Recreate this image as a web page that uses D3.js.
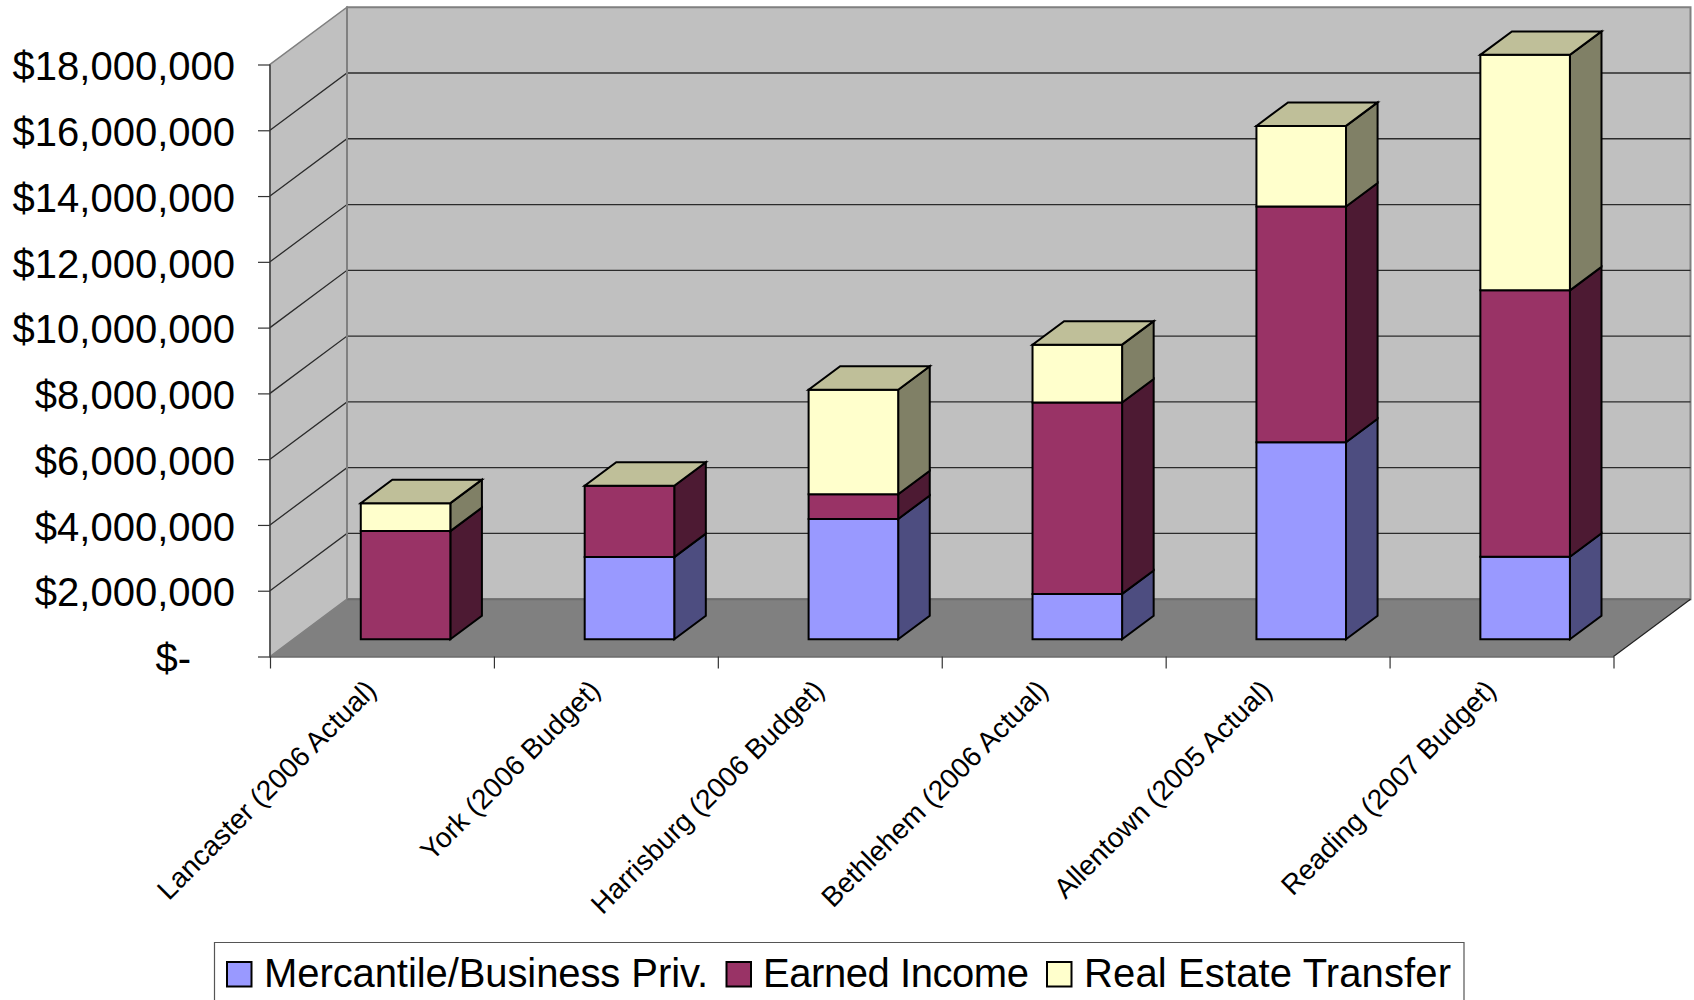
<!DOCTYPE html>
<html>
<head>
<meta charset="utf-8">
<script src="https://cdn.jsdelivr.net/npm/d3@7/dist/d3.min.js"></script>
<style>
  html, body { margin: 0; padding: 0; background: #fff; overflow: hidden; }
  svg { display: block; }
  text { font-family: "Liberation Sans", Arial, sans-serif; fill: #000; }
</style>
</head>
<body>
<svg id="chart" width="1694" height="1000"></svg>
<script>
// Local tax revenue by city, stacked by source
const categories = [
  "Lancaster (2006 Actual)", "York (2006 Budget)", "Harrisburg (2006 Budget)",
  "Bethlehem (2006 Actual)", "Allentown (2005 Actual)", "Reading (2007 Budget)"
];
const seriesNames = ["Mercantile/Business Priv.", "Earned Income", "Real Estate Transfer"];
const mercantile = [0, 2500000, 3660000, 1380000, 5990000, 2510000];
const earnedIncome = [3290000, 2170000, 750000, 5820000, 7170000, 8100000];
const realEstate = [850000, 0, 3180000, 1760000, 2450000, 7160000];
const yTicks = [0, 2e6, 4e6, 6e6, 8e6, 10e6, 12e6, 14e6, 16e6, 18e6];

const frontColors = ["#9999FF", "#993366", "#FFFFCC"];
const sideColors = ["#4D4D80", "#4D1A33", "#808066"];
const topColor = "#BFBF99";

const svg = d3.select("#chart");

const plot = { left: 270, right: 1613.5, bottom: 656.5, top: 64.5 };
const depthX = 77, depthY = -57.3;
const barDepthNear = 0.3, barDepthFar = 0.71;

const y = d3.scaleLinear().domain([0, 18e6]).range([plot.bottom, plot.top]);
const x = d3.scaleBand().domain(categories).range([plot.left, plot.right]);
const barX = d3.scaleBand().domain(categories).range([plot.left, plot.right])
  .paddingInner(0.6).paddingOuter(0.3);
const zx = d3.scaleLinear().domain([0, 1]).range([0, depthX]);
const zy = d3.scaleLinear().domain([0, 1]).range([0, depthY]);

// Oblique projection from (horizontal px, value, depth fraction) to the page
const pt = (px, v, z) => [px + zx(z), y(v) + zy(z)];
const poly = pts => d3.line()(pts) + "Z";

// Walls and floor
const walls = svg.append("g");
const wallMax = y.domain()[1];
walls.append("path")
  .attr("d", poly([pt(plot.left, 0, 0), pt(plot.left, 0, 1), pt(plot.left, wallMax, 1), pt(plot.left, wallMax, 0)]))
  .attr("fill", "#C0C0C0").attr("stroke", "#808080").attr("stroke-width", 1.5);
walls.append("path")
  .attr("d", poly([pt(plot.left, 0, 1), pt(plot.right, 0, 1), pt(plot.right, wallMax, 1), pt(plot.left, wallMax, 1)]))
  .attr("fill", "#C0C0C0").attr("stroke", "#808080").attr("stroke-width", 2);
walls.append("path")
  .attr("d", poly([pt(plot.left, 0, 0), pt(plot.right, 0, 0), pt(plot.right, 0, 1), pt(plot.left, 0, 1)]))
  .attr("fill", "#808080");
walls.append("path")
  .attr("d", d3.line()([pt(plot.left, 0, 1), pt(plot.right, 0, 1)]))
  .attr("stroke", "#6e6e6e").attr("stroke-width", 2).attr("fill", "none");
walls.append("path")
  .attr("d", d3.line()([pt(plot.right, 0, 0), pt(plot.right, 0, 1)]))
  .attr("stroke", "#222").attr("stroke-width", 1.2).attr("fill", "none");

// Gridlines along the side and back walls
const grid = svg.append("g").attr("fill", "none");
yTicks.filter(d => d > 0 && d < wallMax).forEach(d => {
  grid.append("path")
    .attr("d", d3.line()([pt(plot.left, d, 0), pt(plot.left, d, 1), pt(plot.right, d, 1)]))
    .attr("stroke", "#2b2b2b").attr("stroke-width", 1.3);
});
grid.append("path")
  .attr("d", d3.line()([pt(plot.left, 0, 0), pt(plot.left, wallMax, 0)]))
  .attr("stroke", "#333").attr("stroke-width", 1.2);
grid.append("path")
  .attr("d", d3.line()([pt(plot.left, 0, 1), pt(plot.left, wallMax, 1)]))
  .attr("stroke", "#808080").attr("stroke-width", 2);

// Stacked columns, each segment with a side face and the stack with one top face
const columns = [mercantile, earnedIncome, realEstate];
const bars = svg.append("g").attr("stroke", "#000").attr("stroke-width", 2).attr("stroke-linejoin", "miter");
categories.forEach((c, i) => {
  const x0 = barX(c) + 0.5, x1 = x0 + barX.bandwidth();
  let base = 0;
  columns.forEach((vals, s) => {
    const v = vals[i];
    const end = base + v;
    if (v > 0) {
      bars.append("path")
        .attr("d", poly([pt(x1, base, barDepthNear), pt(x1, base, barDepthFar), pt(x1, end, barDepthFar), pt(x1, end, barDepthNear)]))
        .attr("fill", sideColors[s]);
      bars.append("path")
        .attr("d", poly([pt(x0, base, barDepthNear), pt(x1, base, barDepthNear), pt(x1, end, barDepthNear), pt(x0, end, barDepthNear)]))
        .attr("fill", frontColors[s]);
    }
    base = end;
  });
  bars.append("path")
    .attr("d", poly([pt(x0, base, barDepthNear), pt(x1, base, barDepthNear), pt(x1, base, barDepthFar), pt(x0, base, barDepthFar)]))
    .attr("fill", topColor);
});

// Value axis
const yAxis = d3.axisLeft(y)
  .tickValues(yTicks)
  .tickFormat(d => d === 0 ? "$-" : d3.format("$,")(d))
  .tickSize(12).tickPadding(23);
const yG = svg.append("g").attr("transform", `translate(${plot.left},0)`).call(yAxis);
yG.select(".domain").remove();
yG.selectAll("line").attr("stroke", "#333").attr("stroke-width", 1.2);
yG.selectAll("text")
  .style("font-size", "40px")
  .attr("dy", "0.38em")
  .attr("x", d => d === 0 ? -79 : -35);

// Category axis: ticks sit on the category boundaries, labels on the slanted baseline
const edge = d3.scaleLinear().domain([0, categories.length]).range([plot.left, plot.right]);
const xAxis = d3.axisBottom(edge)
  .tickValues(d3.range(categories.length + 1))
  .tickFormat("")
  .tickSize(12).tickSizeOuter(0);
const xG = svg.append("g").attr("transform", `translate(0,${plot.bottom})`).call(xAxis);
xG.select(".domain").attr("stroke", "#222").attr("stroke-width", 1.2);
xG.selectAll("line").attr("stroke", "#333").attr("stroke-width", 1.2);

svg.append("g").selectAll("text").data(categories).join("text")
  .attr("transform", d => `translate(${x(d) + x.bandwidth() / 2 - 4},692) rotate(-45)`)
  .attr("text-anchor", "end")
  .style("font-size", "28px")
  .text(d => d);

// Legend, its box running off the bottom of the page
const legend = svg.append("g");
legend.append("path")
  .attr("d", d3.line()([[214.5, 1000], [214.5, 942.5], [1464, 942.5], [1464, 1000]]))
  .attr("fill", "#fff").attr("stroke", "#555").attr("stroke-width", 1.2);
const legendSwatchX = [227, 726.5, 1047];
const legendTextX = [264, 763, 1084];
const legendTextWidth = [444, 266, 367];
seriesNames.forEach((name, i) => {
  legend.append("rect")
    .attr("x", legendSwatchX[i]).attr("y", 962).attr("width", 24.5).attr("height", 24.5)
    .attr("fill", frontColors[i]).attr("stroke", "#000").attr("stroke-width", 2);
  legend.append("text")
    .attr("x", legendTextX[i]).attr("y", 987)
    .attr("textLength", legendTextWidth[i])
    .attr("lengthAdjust", "spacing")
    .style("font-size", "40px")
    .text(name);
});
</script>
</body>
</html>
